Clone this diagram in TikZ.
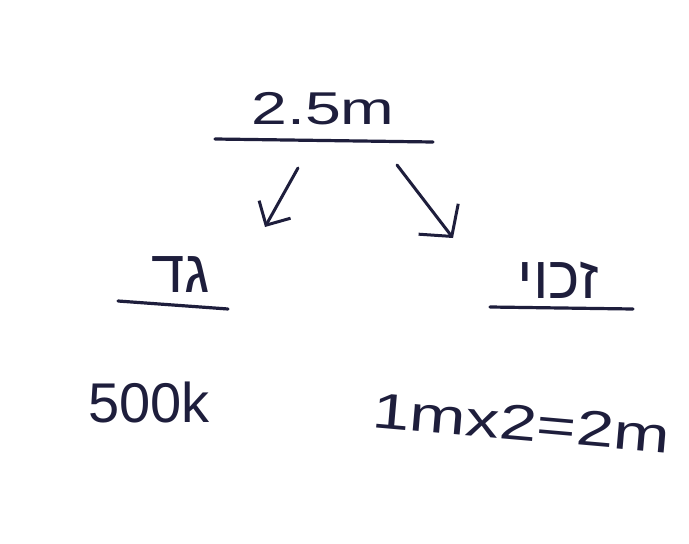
\documentclass[tikz,border=0pt]{standalone}
\usepackage{fontspec}
\setmainfont{Liberation Sans}
\newfontfamily\hebfont[Script=Hebrew]{Liberation Sans}
\TeXXeTstate=1
\usetikzlibrary{arrows.meta}
\definecolor{ink}{HTML}{1E1E3C}

\begin{document}
\begin{tikzpicture}[x=1pt,y=-1pt,
    txt/.style={text=ink,inner sep=0pt,anchor=base},
    rule/.style={draw=ink,line width=3.2pt,line cap=round},
    pen/.style={draw=ink,line width=3pt,line cap=round,line join=round}]
  \useasboundingbox[fill=white] (0,0) rectangle (689,544);
  \node[txt,font=\fontsize{46}{46}\selectfont] (total) at (323,124) {\scalebox{1.4}[1]{2.5m}};
  \coordinate (t1) at (215,139); \coordinate (t2) at (433,142);
  \draw[rule] (t1) -- (t2);

  \coordinate (la) at (298,168); \coordinate (lb) at (265,227);
  \draw[pen,-{Straight Barb[length=18pt,width=36pt]}] (la) -- (lb);
  \coordinate (ra) at (397,165); \coordinate (rb) at (453,238);
  \draw[pen,-{Straight Barb[length=22pt,width=50pt]}] (ra) -- (rb);

  \node[txt,font=\fontsize{60}{60}\selectfont\hebfont] (money) at (181,292) {\beginR גד\endR};
  \coordinate (m1) at (118,301); \coordinate (m2) at (228,309);
  \draw[rule] (m1) -- (m2);
  \node[txt,font=\fontsize{60}{60}\selectfont\hebfont] (credit) at (558,298) {\beginR זכוי\endR};
  \coordinate (c1) at (490,307); \coordinate (c2) at (633,309);
  \draw[rule] (c1) -- (c2);

  \node[txt,font=\fontsize{56}{56}\selectfont] (part) at (149,422) {500k};
  \node[txt,font=\fontsize{50}{50}\selectfont,rotate=-5] (calc) at (520,440) {\scalebox{1.35}[1]{1mx2=2m}};
\end{tikzpicture}
\end{document}
